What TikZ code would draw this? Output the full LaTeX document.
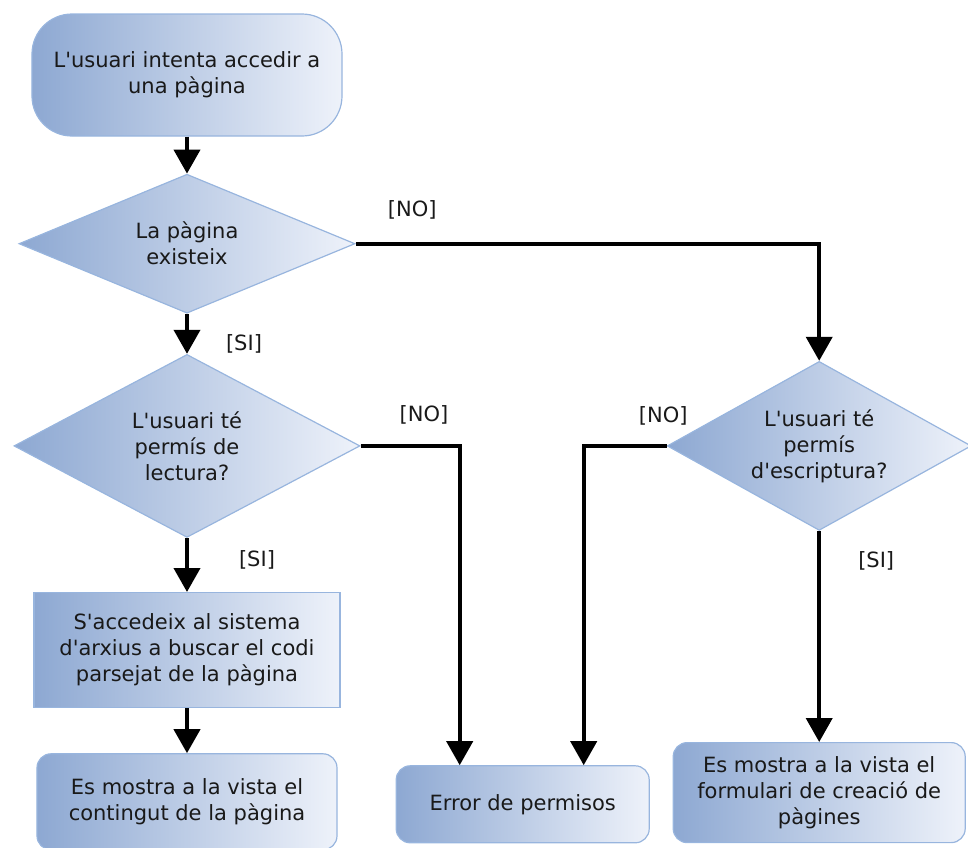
\documentclass[tikz,border=0pt]{standalone}
\usepackage{fontspec}
\setmainfont{DejaVu Sans}[Ligatures=TeXOff]
\usepackage{xcolor}
\usepackage{tikz}
\usetikzlibrary{arrows.meta, shapes.geometric, positioning}

\definecolor{shapeleft}{RGB}{141,168,210}
\definecolor{shaperight}{RGB}{238,242,250}
\definecolor{shapeborder}{RGB}{152,181,222}

\begin{document}
\begin{tikzpicture}[
every node/.style={font=\fontsize{21}{26}\selectfont, text=black!90},
startnode/.style={rectangle, draw=shapeborder, left color=shapeleft, right color=shaperight, line width=1.2pt, minimum width=310pt, minimum height=122pt, inner sep=0pt, align=center, rounded corners=40pt},
decision/.style={diamond, aspect=2, draw=shapeborder, left color=shapeleft, right color=shaperight, line width=1.2pt, inner sep=0pt, align=center},
process/.style={rectangle, draw=shapeborder, left color=shapeleft, right color=shaperight, line width=1.2pt, inner sep=0pt, align=center},
endnode/.style={rectangle, draw=shapeborder, left color=shapeleft, right color=shaperight, line width=1.2pt, inner sep=0pt, align=center, rounded corners=14pt},
flow/.style={line width=4pt, -{Triangle[width=26pt,length=24pt]}}
]
	\useasboundingbox (-187pt,75pt) rectangle (781pt,-772pt);
	\node[startnode] (n1) at (0,0) {L'usuari intenta accedir a\\una pàgina};
	\node[decision, minimum width=336pt, minimum height=139pt, anchor=north, shift={(0pt,-37pt)}] (d1) at (n1.south) {La pàgina\\existeix};
	\node[decision, minimum width=346pt, minimum height=183pt, anchor=north, shift={(0pt,-40pt)}] (d2) at (d1.south) {L'usuari té\\permís de\\lectura?};
	\node[process, minimum width=306pt, minimum height=115pt, anchor=north, shift={(0pt,-54pt)}] (r1) at (d2.south) {S'accedeix al sistema\\d'arxius a buscar el codi\\parsejat de la pàgina};
	\node[endnode, minimum width=300pt, minimum height=96pt, anchor=north, shift={(0pt,-45pt)}] (n2) at (r1.south) {Es mostra a la vista el\\contingut de la pàgina};
	\node[decision, minimum width=304pt, minimum height=169pt, anchor=west, shift={(306pt,0pt)}] (d3) at (d2.east) {L'usuari té\\permís\\d'escriptura?};
	\node[endnode, minimum width=292pt, minimum height=100pt, anchor=north, shift={(0pt,-211pt)}] (n3) at (d3.south) {Es mostra a la vista el\\formulari de creació de\\pàgines};
	\node[endnode, minimum width=253pt, minimum height=77pt, anchor=south west, shift={(58pt,7pt)}] (err) at (n2.south east) {Error de permisos};
	\draw[flow] (n1) -- (d1);
	\draw[flow] (d1) -- node[pos=0.75, xshift=57pt] {[SI]} (d2);
	\draw[flow] (d1.east) -| node[pos=0.061, yshift=34pt] {[NO]} (d3.north);
	\draw[flow] (d2) -- node[pos=0.4, xshift=70pt] {[SI]} (r1);
	\draw[flow] (d2.east) -| node[pos=0.32, yshift=31pt] {[NO]} ([xshift=-63pt]err.north);
	\draw[flow] (r1) -- (n2);
	\draw[flow] (d3.west) -| node[pos=0.02, yshift=30pt] {[NO]} ([xshift=61pt]err.north);
	\draw[flow] (d3.south) -- node[pos=0.14, xshift=57pt] {[SI]} (n3.north);
\end{tikzpicture}
\end{document}
